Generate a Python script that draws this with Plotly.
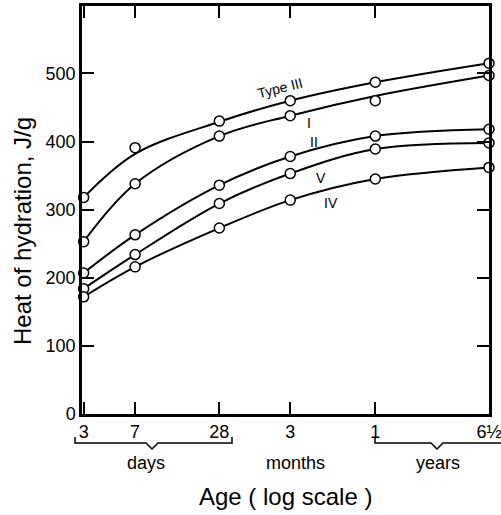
import math
import plotly.graph_objects as go

# ---- data (ages in days, heat of hydration in J/g) ----
age_days = [3, 7, 28, 90, 365, 2372]
tick_text = ["3", "7", "28", "3", "1", "6½"]

series_names = ["Type III", "I", "II", "V", "IV"]
# measured points
pts_III = [318, 391, 430, 460, 487, 515]
pts_I = [253, 338, 408, 438, 460, 497]
pts_II = [207, 263, 336, 378, 408, 418]
pts_V = [184, 234, 309, 353, 389, 398]
pts_IV = [172, 216, 273, 314, 345, 362]
# smoothed curve values drawn in the original
crv_III = [318, 382, 429, 460, 487, 515]
crv_I = [253, 338, 408, 438, 467, 497]
crv_II = [207, 263, 336, 378, 408, 418]
crv_V = [184, 234, 309, 353, 389, 398]
crv_IV = [172, 216, 273, 314, 345, 362]

points = [pts_III, pts_I, pts_II, pts_V, pts_IV]
curves = [crv_III, crv_I, crv_II, crv_V, crv_IV]

# label anchor positions (age in days, J/g) and angle
label_age = [76, 122, 132, 150, 175]
label_val = [479, 427, 399, 346, 310]
label_angle = [-14, 0, 0, 0, 0]

fig = go.Figure()
for crv in curves:
    fig.add_trace(go.Scatter(x=age_days, y=crv, mode="lines",
                             line=dict(color="black", width=2, shape="spline", smoothing=1.0),
                             showlegend=False, hoverinfo="skip"))
for p in points:
    fig.add_trace(go.Scatter(x=age_days, y=p, mode="markers", cliponaxis=False,
                             marker=dict(symbol="circle", size=10, color="white",
                                         line=dict(color="black", width=1.5)),
                             showlegend=False))

FONT = "Liberation Sans, Arial, sans-serif"
xmin, xmax = math.log10(2.92), math.log10(2372)

fig.update_layout(
    width=501, height=515,
    margin=dict(l=82, r=12, t=6, b=101, autoexpand=False),
    paper_bgcolor="white", plot_bgcolor="white",
    font=dict(family=FONT, color="black", size=18),
    xaxis=dict(type="log", range=[xmin, xmax], tickvals=age_days, ticktext=tick_text,
               ticks="inside", ticklen=12, tickwidth=1.5, tickcolor="black",
               showline=True, linewidth=2.5, linecolor="black", mirror="allticks",
               showgrid=False, zeroline=False, tickfont=dict(size=18),
               ticklabeloverflow="allow", automargin=False),
    yaxis=dict(range=[0, 599], tickvals=[0, 100, 200, 300, 400, 500],
               ticks="inside", ticklen=12, tickwidth=1.5, tickcolor="black",
               showline=True, linewidth=2.5, linecolor="black", mirror="allticks",
               showgrid=False, zeroline=False, tickfont=dict(size=18), automargin=False),
)

for name, a, v, ang in zip(series_names, label_age, label_val, label_angle):
    fig.add_annotation(x=math.log10(a), y=v, text=name, showarrow=False,
                       textangle=ang, xanchor="center", yanchor="middle",
                       font=dict(size=14, family=FONT, color="black"))

# helpers for decorations below the axis (pixels relative to plot area)
plot_w, plot_h = 501 - 82 - 12, 515 - 6 - 101

def px_x(px):
    return (px - 82) / plot_w

def px_y(py):
    return (414 - py) / plot_h

def brace(x0, x1, xc):
    ytop, ymid, ybot = 437, 443, 449
    return (f"M {px_x(x0)} {px_y(ytop)} L {px_x(x0)} {px_y(ymid)} "
            f"L {px_x(xc - 6)} {px_y(ymid)} L {px_x(xc)} {px_y(ybot)} "
            f"L {px_x(xc + 6)} {px_y(ymid)} L {px_x(x1)} {px_y(ymid)} L {px_x(x1)} {px_y(ytop)}")

fig.add_shape(type="path", xref="paper", yref="paper", path=brace(75, 232, 152),
              line=dict(color="black", width=1.5))
fig.add_shape(type="path", xref="paper", yref="paper", path=brace(375, 510, 437),
              line=dict(color="black", width=1.5))

for txt, px in [("days", 146), ("months", 295), ("years", 438)]:
    fig.add_annotation(xref="paper", yref="paper", x=px_x(px), y=px_y(463), text=txt,
                       xanchor="center", yanchor="middle",
                       showarrow=False, font=dict(size=18, family=FONT))

fig.add_annotation(xref="paper", yref="paper", x=px_x(285), y=px_y(496),
                   xanchor="center", yanchor="middle",
                   text="Age ( log scale )", showarrow=False, font=dict(size=24, family=FONT))
fig.add_annotation(xref="paper", yref="paper", x=px_x(22), y=px_y(231),
                   xanchor="center", yanchor="middle",
                   text="Heat of hydration, J/g", textangle=-90, showarrow=False,
                   font=dict(size=24, family=FONT))

fig.write_html("out.html", config={"displayModeBar": False},
               post_script="document.body.style.margin='0';document.body.style.overflow='hidden';")
